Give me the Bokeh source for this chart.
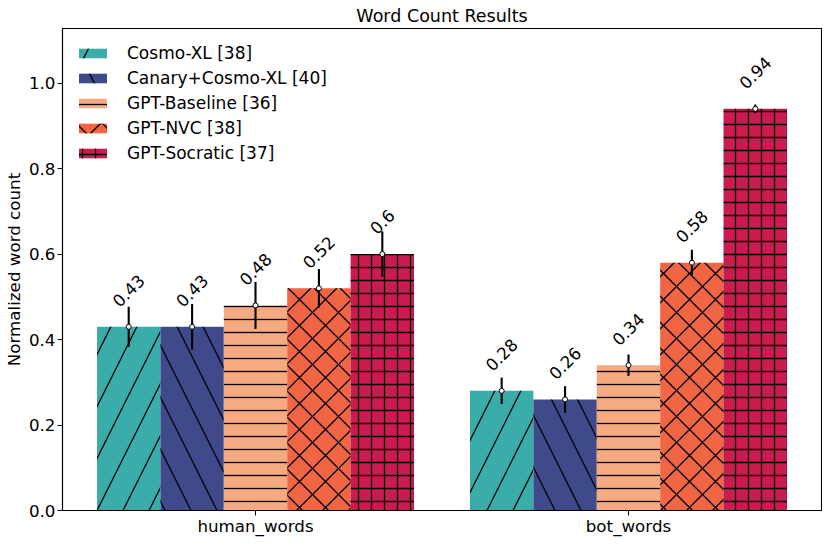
import math
from bokeh.plotting import figure
from bokeh.models import ColumnDataSource, FactorRange, FixedTicker, PrintfTickFormatter, Legend, LegendItem
from bokeh.transform import dodge
from bokeh.core.properties import value
from bokeh.embed import file_html
from bokeh.resources import INLINE

# ---- data ----
categories = ["human_words", "bot_words"]
series_names = ["Cosmo-XL [38]", "Canary+Cosmo-XL [40]", "GPT-Baseline [36]", "GPT-NVC [38]", "GPT-Socratic [37]"]
cosmo_xl = [0.43, 0.28]
canary_cosmo_xl = [0.43, 0.26]
gpt_baseline = [0.48, 0.34]
gpt_nvc = [0.52, 0.58]
gpt_socratic = [0.60, 0.94]
cosmo_xl_err = [0.047, 0.031]
canary_cosmo_xl_err = [0.053, 0.031]
gpt_baseline_err = [0.055, 0.025]
gpt_nvc_err = [0.045, 0.030]
gpt_socratic_err = [0.053, 0.010]

values = [cosmo_xl, canary_cosmo_xl, gpt_baseline, gpt_nvc, gpt_socratic]
errors = [cosmo_xl_err, canary_cosmo_xl_err, gpt_baseline_err, gpt_nvc_err, gpt_socratic_err]

# ---- style ----
colors = ["#3AADAA", "#3F4A8A", "#F6AA82", "#F06543", "#CB1B4F"]
hatches = ["/", "\\", "-", "x", "+"]
hatch_scales = [52, 52, 13, 26, 13]
FONT = "DejaVu Sans"
FS = 16.7
bar_w = 0.17
offsets = [-2 * bar_w, -bar_w, 0.0, bar_w, 2 * bar_w]
Y_TOP = 1.128
FRAME_W = 759
FRAME_H = 482
PX_PER_UNIT = FRAME_H / Y_TOP


def text_width(s, fs):
    w = 0.0
    for ch in s:
        w += 0.318 if ch == "." else 0.636
    return w * fs


p = figure(
    x_range=FactorRange(factors=categories, range_padding=0.0175, range_padding_units="percent"),
    y_range=(0, Y_TOP),
    frame_width=FRAME_W, frame_height=FRAME_H,
    min_border_left=57, min_border_right=1, min_border_top=27, min_border_bottom=25,
    output_backend="svg", toolbar_location=None,
    title="Word Count Results",
)
p.title.align = "center"
p.title.text_font = FONT
p.title.text_font_size = "17.5px"
p.title.text_font_style = "normal"
p.title.text_color = "black"
p.title.standoff = 6

items = []
for i in range(5):
    vals = values[i]
    errs = errors[i]
    src = ColumnDataSource(dict(
        cat=categories,
        val=vals,
        lo=[v - e for v, e in zip(vals, errs)],
        hi=[v + e for v, e in zip(vals, errs)],
        label=[("%.2f" % v).rstrip("0").rstrip(".") for v in vals],
    ))
    src.data["ly"] = [v + (22.8 + text_width(t, FS) / (2 * math.sqrt(2))) / PX_PER_UNIT
                      for v, t in zip(vals, src.data["label"])]
    x = dodge("cat", offsets[i], range=p.x_range)
    r = p.vbar(x=x, top="val", bottom=0, width=bar_w, source=src,
               fill_color=colors[i], line_color=None,
               hatch_pattern=hatches[i], hatch_color="black",
               hatch_weight=1.3, hatch_scale=hatch_scales[i])
    items.append(LegendItem(label=series_names[i], renderers=[r]))
    p.segment(x0=x, y0="lo", x1=x, y1="hi", source=src, line_color="black", line_width=2.1)
    p.scatter(x=x, y="val", source=src, size=5, fill_color="white", line_color="black", line_width=1)
    p.text(x=x, y="ly", text="label", source=src, angle=math.pi / 4,
           text_align="center", text_baseline="middle",
           text_font=value(FONT), text_font_size=f"{FS}px", text_color="black")

legend = Legend(items=items, location=(13, 347), margin=0, padding=0,
                border_line_alpha=0, background_fill_alpha=0,
                label_text_font=FONT, label_text_font_size="17px", label_text_color="black",
                glyph_width=35, glyph_height=12, label_height=20, spacing=5,
                label_standoff=17)
p.add_layout(legend)

p.xgrid.visible = False
p.ygrid.visible = False
p.outline_line_color = "black"
p.outline_line_width = 1.1

p.yaxis.ticker = FixedTicker(ticks=[0, 0.2, 0.4, 0.6, 0.8, 1.0])
p.yaxis.formatter = PrintfTickFormatter(format="%.1f")
p.yaxis.axis_label = "Normalized word count"
p.yaxis.axis_label_text_font_style = "normal"
p.yaxis.axis_label_text_font = FONT
p.yaxis.axis_label_text_font_size = f"{FS}px"
p.yaxis.axis_label_text_color = "black"
p.yaxis.axis_label_standoff = 2
for ax in (p.xaxis, p.yaxis):
    ax.major_label_text_font = FONT
    ax.major_label_text_font_size = f"{FS}px"
    ax.major_label_text_color = "black"
    ax.axis_line_color = "black"
    ax.axis_line_width = 1.1
    ax.major_tick_line_color = "black"
    ax.major_tick_out = 5
    ax.major_tick_in = 0
    ax.minor_tick_line_color = None
    ax.major_label_standoff = 2
p.xaxis.major_label_standoff = 0

open("out.html", "w").write(file_html(p, INLINE))
